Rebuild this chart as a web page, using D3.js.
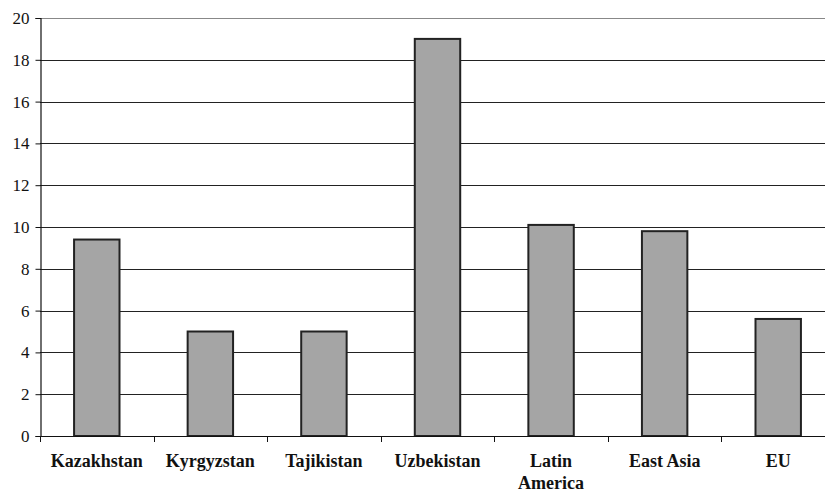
<!DOCTYPE html>
<html>
<head>
    <script src="https://d3js.org/d3.v7.min.js"></script>
    <title>Chart</title>
    <style>
        body { margin: 0; background: #fff; }
        #chart text { font-family: "Times New Roman", "Liberation Serif", serif; }
    </style>
</head>
<body>
    <svg id="chart" width="825" height="494"></svg>
    <script>
        const categories = ["Kazakhstan", "Kyrgyzstan", "Tajikistan", "Uzbekistan", "Latin America", "East Asia", "EU"]
        const values = [9.4, 5.0, 5.0, 19.0, 10.1, 9.8, 5.6]
        const yTicks = [0, 2, 4, 6, 8, 10, 12, 14, 16, 18, 20]

        const W = 825, H = 494
        const margin = {top: 18, left: 40, bottom: 58}
        const x0 = margin.left, x1 = 835
        const y0 = H - margin.bottom, y1 = margin.top

        const svg = d3.select("#chart")

        const x = d3.scaleBand().domain(categories).range([x0, x1]).paddingInner(0.6).paddingOuter(0.3)
        const band = d3.scaleBand().domain(categories).range([x0, x1])
        const y = d3.scaleLinear().domain([0, 20]).range([y0, y1])

        // gridlines
        svg.append("g").selectAll("line").data(yTicks.filter(d => d > 0))
            .enter().append("line")
            .attr("x1", x0).attr("x2", W)
            .attr("y1", d => Math.round(y(d)) + 0.5).attr("y2", d => Math.round(y(d)) + 0.5)
            .attr("stroke", d => d === 20 ? "#888" : "#222")
            .attr("stroke-width", 1.2)

        // bars
        svg.append("g").selectAll("rect").data(values)
            .enter().append("rect")
            .attr("x", (d, i) => x(categories[i]))
            .attr("width", x.bandwidth())
            .attr("y", d => y(d))
            .attr("height", d => y0 - y(d))
            .attr("fill", "#a5a5a5")
            .attr("stroke", "#222")
            .attr("stroke-width", 2)

        // y axis
        const yAxis = d3.axisLeft(y).tickValues(yTicks).tickSize(5).tickPadding(6)
        const gy = svg.append("g").attr("transform", `translate(${x0 + 0.5},0)`).call(yAxis)
        gy.attr("font-family", "Times New Roman").attr("font-size", 17)
        gy.select(".domain").attr("stroke", "#111").attr("stroke-width", 1.2)
        gy.selectAll(".tick line").attr("stroke", "#111")
        gy.selectAll("text").attr("fill", "#111")

        // x axis
        svg.append("line").attr("x1", x0).attr("x2", W).attr("y1", y0 + 0.5).attr("y2", y0 + 0.5)
            .attr("stroke", "#111").attr("stroke-width", 1.2)
        svg.append("g").selectAll("line").data(categories)
            .enter().append("line")
            .attr("x1", d => Math.round(band(d)) + 0.5).attr("x2", d => Math.round(band(d)) + 0.5)
            .attr("y1", y0).attr("y2", y0 + 6)
            .attr("stroke", "#111")

        const labels = svg.append("g")
            .attr("font-family", "Times New Roman")
            .attr("font-size", 18)
            .attr("font-weight", "bold")
            .selectAll("text").data(categories)
            .enter().append("text")
            .attr("x", d => band(d) + band.bandwidth() / 2)
            .attr("y", 467)
            .attr("text-anchor", "middle")
            .attr("fill", "#111")
        labels.each(function(d) {
            const words = d === "Latin America" ? ["Latin", "America"] : [d]
            const t = d3.select(this)
            words.forEach((w, i) => {
                t.append("tspan").attr("x", band(d) + band.bandwidth() / 2).attr("dy", i === 0 ? 0 : 22).text(w)
            })
        })
    </script>
</body>
</html>
